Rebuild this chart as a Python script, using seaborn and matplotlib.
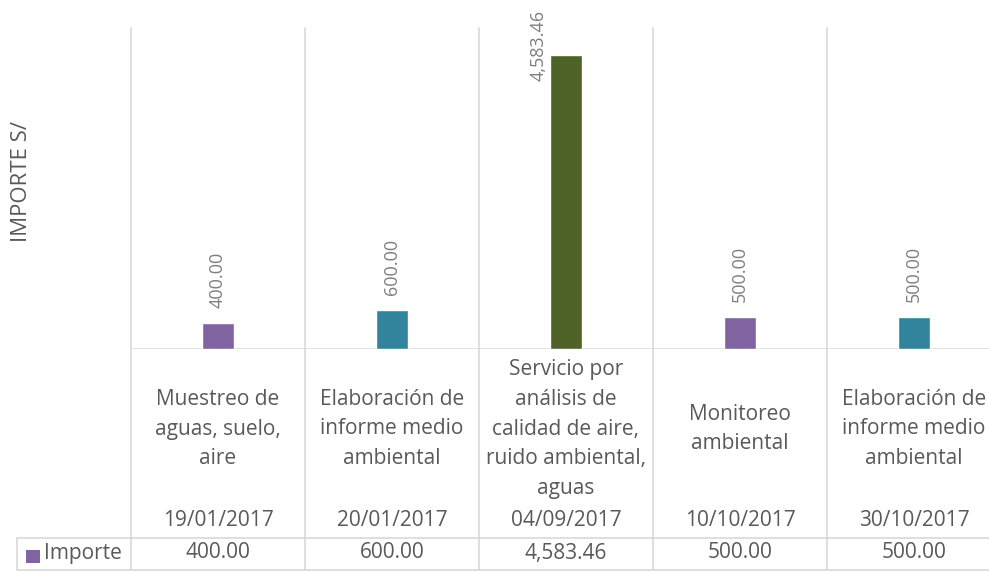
import matplotlib
matplotlib.use("Agg")
import matplotlib.pyplot as plt
from matplotlib.lines import Line2D
from matplotlib.patches import Rectangle
import seaborn as sns
import pandas as pd

# data
fechas = ["19/01/2017", "20/01/2017", "04/09/2017", "10/10/2017", "30/10/2017"]
servicios = ["Muestreo de\naguas, suelo,\naire",
             "Elaboración de\ninforme medio\nambiental",
             "Servicio por\nanálisis de\ncalidad de aire,\nruido ambiental,\naguas",
             "Monitoreo\nambiental",
             "Elaboración de\ninforme medio\nambiental"]
importes = [400.00, 600.00, 4583.46, 500.00, 500.00]
colores = ["#8064A2", "#31849B", "#4F6228", "#8064A2", "#31849B"]

sns.set_style("white")
plt.rcParams['font.family'] = ['Open Sans', 'DejaVu Sans']

W, H = 989, 571
fig = plt.figure(figsize=(W / 100, H / 100), dpi=100)


def fy(px):
    return 1 - px / H


def ay(px):
    # pixel row -> axes fraction (axes spans rows 28..349)
    return (349 - px) / 321


ax = fig.add_axes([131 / W, fy(349), 870 / W, 321 / H])

df = pd.DataFrame({"fecha": fechas, "importe": importes})
sns.barplot(data=df, x="fecha", y="importe", hue="fecha", palette=colores,
            width=0.184, saturation=1, legend=False, ax=ax)

ax.set_ylim(0, 5000)
ax.set_xlim(-0.5, 4.5)
ax.set_xticks([])
ax.set_yticks([])
ax.set_xlabel("")
ax.set_ylabel("")
sns.despine(ax=ax, left=True, bottom=True)

grid = "#D9D9D9"
txt = "#595959"

# vertical separators through plot and table
for i in range(6):
    ax.plot([i - 0.5, i - 0.5], [1, ay(571)], transform=ax.get_xaxis_transform(),
            clip_on=False, color=grid, lw=1.2, zorder=0)
ax.axhline(0, color=grid, lw=1.8, zorder=0)

# table rows
fig.add_artist(Line2D([17 / W, 1], [fy(538), fy(538)], transform=fig.transFigure, color=grid, lw=1.2))
fig.add_artist(Line2D([17 / W, 1], [fy(570), fy(570)], transform=fig.transFigure, color=grid, lw=1.2))
fig.add_artist(Line2D([17 / W, 17 / W], [fy(538), fy(570)], transform=fig.transFigure, color=grid, lw=1.2))

tr = ax.get_xaxis_transform()
for i, (s, f, v) in enumerate(zip(servicios, fechas, importes)):
    ax.text(i, ay(429), s, transform=tr, ha="center", va="center", fontsize=15,
            color=txt, linespacing=1.55, clip_on=False)
    ax.text(i, ay(520), f, transform=tr, ha="center", va="center", fontsize=15,
            color=txt, clip_on=False)
    ax.text(i, ay(553), f"{v:,.2f}", transform=tr, ha="center", va="center", fontsize=15,
            color=txt, clip_on=False)
    # bar value labels
    if v == max(importes):
        ax.annotate(f"{v:,.2f}", (i, v), xytext=(-20, 32), textcoords="offset points",
                    rotation=90, ha="center", va="top", fontsize=13, color="#7F7F7F",
                    annotation_clip=False)
    else:
        ax.annotate(f"{v:,.2f}", (i, v), xytext=(0, 11), textcoords="offset points",
                    rotation=90, ha="center", va="bottom", fontsize=13, color="#7F7F7F")

# legend key in data row
fig.add_artist(Rectangle((26 / W, fy(563)), 14 / W, 13 / H, transform=fig.transFigure,
                         facecolor=colores[0], edgecolor="none"))
fig.text(44 / W, fy(553), "Importe", ha="left", va="center", fontsize=15, color=txt)

fig.text(22 / W, fy(182), "IMPORTE S/", rotation=90, ha="center", va="center",
         fontsize=16, color=txt)

fig.savefig("out.png", dpi=100)
